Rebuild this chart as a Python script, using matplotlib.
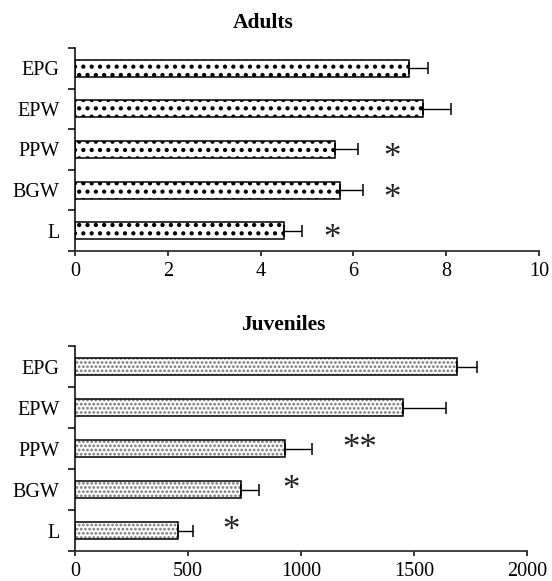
import matplotlib
matplotlib.use('Agg')
import matplotlib.pyplot as plt
import matplotlib.hatch
import numpy as np

# fatter dots for the stipple hatch
matplotlib.hatch.SmallFilledCircles.size = 0.17

plt.rcParams['font.family'] = ['Liberation Serif', 'DejaVu Serif']

sites = ['L', 'BGW', 'PPW', 'EPW', 'EPG']

adults = [4.5, 5.7, 5.6, 7.5, 7.2]
adults_err = [0.4, 0.5, 0.5, 0.6, 0.4]
adults_marks = ['*', '*', '*', '', '']
adults_mark_x = [5.54, 6.83, 6.83, 0, 0]

juveniles = [455, 735, 930, 1450, 1690]
juveniles_err = [65, 80, 120, 190, 90]
juveniles_marks = ['*', '*', '**', '', '']
juveniles_mark_x = [690, 956, 1261, 0, 0]


def panel(ax, values, errs, marks, mark_x, hatch, dot_color, height, xmax, xticks, mark_dy):
    y = np.arange(len(sites))
    # stipple fill first, then the black outline on top
    ax.barh(y, values, height=height, color='white', edgecolor=dot_color,
            linewidth=0, hatch=hatch, zorder=2)
    ax.barh(y, values, height=height, fill=False, edgecolor='black',
            linewidth=1.1, zorder=2.5)
    ax.errorbar(values, y, xerr=[np.zeros(len(errs)), errs], fmt='none',
                ecolor='black', elinewidth=1.0, capsize=4.5, capthick=1.1, zorder=3)
    for yi, m, mx in zip(y, marks, mark_x):
        if m:
            ax.text(mx, yi + mark_dy, m, fontsize=25, ha='center', va='baseline',
                    color='#222222')
    ax.set_xlim(0, xmax)
    ax.set_ylim(-0.5, len(sites) - 0.5)
    ax.set_xticks(xticks)
    ax.set_yticks(y)
    ax.set_yticklabels(sites)
    ax.set_yticks(np.arange(len(sites) + 1) - 0.5, minor=True)
    ax.tick_params(axis='y', which='major', length=0, pad=11, labelsize=14.5)
    ax.tick_params(axis='y', which='minor', length=5, width=1.1, direction='out')
    ax.tick_params(axis='x', length=3.6, width=1.1, pad=4, labelsize=14.5)
    for s in ['top', 'right']:
        ax.spines[s].set_visible(False)
    ax.spines['left'].set_linewidth(1.1)
    ax.spines['bottom'].set_linewidth(1.3)
    ax.spines['bottom'].set_color('#333333')


fig = plt.figure(figsize=(5.52, 5.81), dpi=100)
ax1 = fig.add_axes([0.1359, 0.568, 0.8406, 0.3494])
ax2 = fig.add_axes([0.1359, 0.0516, 0.8188, 0.3528])

panel(ax1, adults, adults_err, adults_marks, adults_mark_x, '..', 'black', 0.42,
      10, [0, 2, 4, 6, 8, 10], -0.43)
panel(ax2, juveniles, juveniles_err, juveniles_marks, juveniles_mark_x, '....', '#8a8a8a',
      0.4, 2000, [0, 500, 1000, 1500, 2000], -0.23)

fig.text(263 / 552, 1 - 23 / 581, 'Adults', ha='center', va='center',
         fontsize=15.5, fontweight='bold')
fig.text(283 / 552, 1 - 325 / 581, 'Juveniles', ha='center', va='center',
         fontsize=15.5, fontweight='bold')

fig.savefig('out.png', dpi=100)
